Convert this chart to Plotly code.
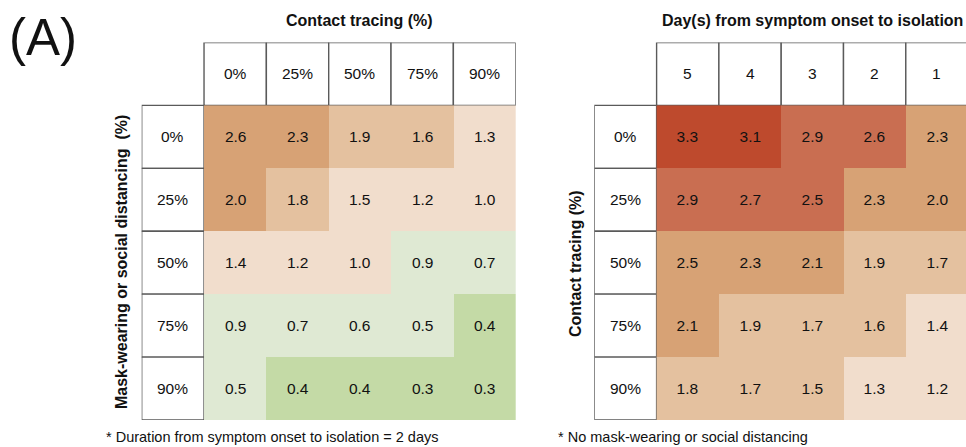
import plotly.graph_objects as go

# ---------------- data ----------------
left_cols = ["0%", "25%", "50%", "75%", "90%"]          # contact tracing
left_rows = ["0%", "25%", "50%", "75%", "90%"]          # mask-wearing / distancing
left_values = [
    [2.6, 2.3, 1.9, 1.6, 1.3],
    [2.0, 1.8, 1.5, 1.2, 1.0],
    [1.4, 1.2, 1.0, 0.9, 0.7],
    [0.9, 0.7, 0.6, 0.5, 0.4],
    [0.5, 0.4, 0.4, 0.3, 0.3],
]
# colour class of each cell (0 = greenest ... 6 = darkest red)
left_levels = [
    [4, 4, 3, 3, 2],
    [4, 3, 2, 2, 2],
    [2, 2, 2, 1, 1],
    [1, 1, 1, 1, 0],
    [1, 0, 0, 0, 0],
]

right_cols = ["5", "4", "3", "2", "1"]                  # days onset -> isolation
right_rows = ["0%", "25%", "50%", "75%", "90%"]         # contact tracing
right_values = [
    [3.3, 3.1, 2.9, 2.6, 2.3],
    [2.9, 2.7, 2.5, 2.3, 2.0],
    [2.5, 2.3, 2.1, 1.9, 1.7],
    [2.1, 1.9, 1.7, 1.6, 1.4],
    [1.8, 1.7, 1.5, 1.3, 1.2],
]
right_levels = [
    [6, 6, 5, 5, 4],
    [5, 5, 5, 4, 4],
    [4, 4, 4, 3, 3],
    [4, 3, 3, 3, 2],
    [3, 3, 3, 2, 2],
]

# ---------------- style ----------------
palette = ["#C4DAA6", "#DFE9D3", "#F1DDCC", "#E4C19F", "#D7A275", "#C96E51", "#BE4A2D"]
n = len(palette)
colorscale = []
for i, c in enumerate(palette):
    colorscale.append([i / n, c])
    colorscale.append([(i + 1) / n, c])

FONT = "Liberation Sans, Arial, sans-serif"
W, H = 966, 447
LINE = dict(color="#5a5a5a", width=1.4)
CELL_FS = 15.5


def px(x):
    return x / W


def py(y):
    return 1 - y / H


fig = go.Figure()


def add_panel(xa, ya, cols, rows, values, levels, xdom, xrange):
    idx = list(range(len(cols)))
    fig.add_trace(go.Heatmap(
        z=levels, x=idx, y=list(range(len(rows))),
        text=[[f"{v:.1f}" for v in r] for r in values],
        texttemplate="%{text}", textfont=dict(family=FONT, size=CELL_FS, color="#111"),
        colorscale=colorscale, zmin=-0.5, zmax=n - 0.5, showscale=False,
        xaxis=xa, yaxis=ya, hoverinfo="skip",
    ))
    axx = "xaxis" if xa == "x" else "xaxis" + xa[1:]
    axy = "yaxis" if ya == "y" else "yaxis" + ya[1:]
    fig.update_layout({
        axx: dict(domain=xdom, range=xrange, visible=False, fixedrange=True),
        axy: dict(domain=[py(420), py(42.5)], range=[4.5, -1.5], visible=False, fixedrange=True),
    })
    for j, c in enumerate(cols):
        fig.add_shape(type="rect", xref=xa, yref=ya, x0=j - 0.5, x1=j + 0.5, y0=-1.5, y1=-0.5,
                      line=LINE, fillcolor="white", layer="below")
        fig.add_annotation(x=j, y=-1, xref=xa, yref=ya, text=c, showarrow=False,
                           font=dict(family=FONT, size=CELL_FS, color="#111"))
    for i, r in enumerate(rows):
        fig.add_shape(type="rect", xref=xa, yref=ya, x0=-1.5, x1=-0.5, y0=i - 0.5, y1=i + 0.5,
                      line=LINE, fillcolor="white", layer="below")
        fig.add_annotation(x=-1, y=i, xref=xa, yref=ya, text=r, showarrow=False,
                           font=dict(family=FONT, size=CELL_FS, color="#111"))


add_panel("x", "y", left_cols, left_rows, left_values, left_levels,
          [px(141.7), px(515.7)], [-1.5, 4.5])
right_units = (W - 594.3) / 62.3
add_panel("x2", "y2", right_cols, right_rows, right_values, right_levels,
          [px(594.3), 1.0], [-1.5, -1.5 + right_units])

ann = [
    dict(x=px(43), y=py(37), text="(A)", font=dict(family=FONT, size=51, color="#111")),
    dict(x=px(359.6), y=py(20), text="<b>Contact tracing (%)</b>", font=dict(family=FONT, size=16, color="#111")),
    dict(x=px(812), y=py(20), text="<b>Day(s) from symptom onset to isolation</b>", font=dict(family=FONT, size=16, color="#111")),
    dict(x=px(121), y=py(262), text="<b>Mask-wearing or social distancing  (%)</b>", textangle=-90,
         font=dict(family=FONT, size=16, color="#111")),
    dict(x=px(575), y=py(264), text="<b>Contact tracing (%)</b>", textangle=-90,
         font=dict(family=FONT, size=16, color="#111")),
    dict(x=px(104), y=py(437), text="* Duration from symptom onset to isolation = 2 days", xanchor="left",
         font=dict(family=FONT, size=14.5, color="#111")),
    dict(x=px(556), y=py(437), text="* No mask-wearing or social distancing", xanchor="left",
         font=dict(family=FONT, size=14.5, color="#111")),
]
for a in ann:
    a.setdefault("xanchor", "center")
    fig.add_annotation(xref="paper", yref="paper", yanchor="middle", showarrow=False, **a)

fig.update_layout(width=W, height=H, margin=dict(l=0, r=0, t=0, b=0),
                  paper_bgcolor="white", plot_bgcolor="white", showlegend=False)

fig.write_html("out.html", config={"displayModeBar": False, "staticPlot": True},
               post_script="document.body.style.margin='0';document.body.style.overflow='hidden';")
